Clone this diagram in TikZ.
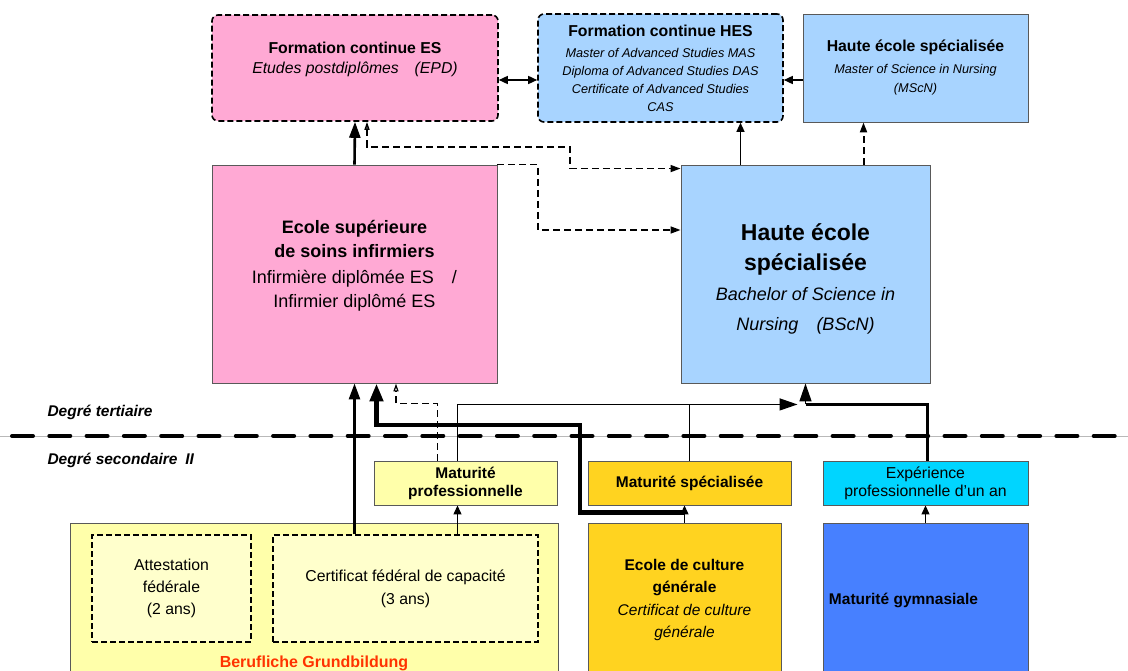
\documentclass[tikz,border=0pt]{standalone}
\usepackage{fontspec}
\setmainfont{Liberation Sans}
\usetikzlibrary{arrows.meta,calc}
\definecolor{espink}{HTML}{FFA9D4}
\definecolor{hesblue}{HTML}{A8D4FF}
\definecolor{cfcyellow}{HTML}{FFFFAA}
\definecolor{cfclight}{HTML}{FFFFCC}
\definecolor{ecggold}{HTML}{FFD320}
\definecolor{expcyan}{HTML}{00D5FF}
\definecolor{mgblue}{HTML}{4780FF}
\definecolor{bgred}{HTML}{FF3300}
\newcommand{\boxsub}[1]{{\fontsize{12.7}{16}\selectfont\itshape #1}}
\newcommand{\bigtitle}[1]{{\fontsize{23}{28}\selectfont\bfseries #1}}

\begin{document}
\begin{tikzpicture}[x=1pt, y=-1pt,
  box/.style={draw=black!65, line width=0.9pt, fill=#1, align=center,
              inner sep=2pt, font=\fontsize{15.8}{19}\selectfont},
  box/.default=white,
  dbox/.style={box=#1, draw=black, line width=1.6pt,
               dash pattern=on 6pt off 3pt},
  level/.style={font=\fontsize{15.5}{19}\selectfont\bfseries\itshape, anchor=west},
  arr/.style={-{Triangle[length=9pt,width=8pt]}, line width=1.5pt, draw=black},
  bigarr/.style={-{Triangle[length=16pt,width=11pt]}, line width=2.6pt, draw=black},
  hugearr/.style={-{Triangle[length=18pt,width=13pt]}, line width=4.5pt, draw=black},
  dasharr/.style={-{Triangle[length=10pt,width=7pt]}, line width=1.5pt, draw=black,
                  dash pattern=on 7pt off 4pt},
  link/.style={line width=1.5pt, draw=black}]
\useasboundingbox (0,0) rectangle (1128,671);

% tertiary level
\node[dbox=espink, rounded corners=6pt, minimum width=286, minimum height=106] (fces) at (355,68)
  {\textbf{Formation continue ES}\\[1pt]\textit{Etudes postdiplômes\quad (EPD)}\\[1pt]\mbox{}};
\node[dbox=hesblue, rounded corners=6pt, minimum width=245, minimum height=108] (fches) at (660.5,68)
  {\textbf{Formation continue HES}\\[2pt]
   \boxsub{Master of Advanced Studies MAS}\\[-1pt]
   \boxsub{Diploma of Advanced Studies DAS}\\[-1pt]
   \boxsub{Certificate of Advanced Studies}\\[-1pt]
   \boxsub{CAS}};
\node[box=hesblue, minimum width=225, minimum height=108] (hestop) at (915.5,68)
  {\textbf{Haute école spécialisée}\\[3pt]
   \boxsub{Master of Science in Nursing}\\[0pt]\boxsub{(MScN)}};
\node[box=espink, minimum width=285, minimum height=218,
      font=\fontsize{18}{24}\selectfont] (esi) at (354.5,274)
  {\textbf{Ecole supérieure}\\ \textbf{de soins infirmiers}\\[2pt]
   Infirmière diplômée ES\quad /\\ Infirmier diplômé ES\\[-4pt]\mbox{}};
\node[box=hesblue, minimum width=249, minimum height=218,
      font=\fontsize{18}{30}\selectfont] (hesbig) at (805.5,274)
  {\mbox{}\\[-3pt]\bigtitle{Haute école}\\ \bigtitle{spécialisée}\\
   \textit{Bachelor of Science in}\\ \textit{Nursing\quad(BScN)}};

% level separator
\draw[gray!55, line width=0.8pt] (0,436) -- (1128,436);
\draw[line width=4pt, line cap=round, dash pattern=on 21pt off 16.3pt] (12,436) -- (1128,436);
\node[level] (tert) at (44,412) {Degré tertiaire};
\node[level] (sec) at (44,460) {Degré secondaire\enspace II};

% secondary level
\node[box=cfcyellow, minimum width=183, minimum height=44, font=\fontsize{15.5}{18}\selectfont\bfseries]
  (mpro) at (465.5,483) {Maturité\\professionnelle};
\node[box=ecggold, minimum width=203, minimum height=44, font=\fontsize{15.5}{18}\selectfont\bfseries]
  (msp) at (689.5,483) {Maturité spécialisée};
\node[box=expcyan, minimum width=205, minimum height=44, font=\fontsize{15.8}{18}\selectfont]
  (exp) at (925.5,483) {Expérience\\professionnelle d’un an};
\node[box=cfcyellow, minimum width=488, minimum height=154] (bg) at (314,600) {};
\node[dbox=cfclight, minimum width=159, minimum height=107, font=\fontsize{15.8}{22}\selectfont]
  (af) at (171.5,588.5) {Attestation\\fédérale\\(2 ans)};
\node[dbox=cfclight, minimum width=265, minimum height=107, font=\fontsize{15.8}{23}\selectfont]
  (cfc) at (405.5,588.5) {Certificat fédéral de capacité\\(3 ans)};
\node[font=\fontsize{16}{19}\selectfont\bfseries, text=bgred] (bglabel) at (314,663)
  {Berufliche Grundbildung};
\node[box=ecggold, minimum width=193, minimum height=154, font=\fontsize{15.5}{22.5}\selectfont]
  (ecg) at (684.5,600) {\textbf{Ecole de culture}\\ \textbf{générale}\\
   \textit{Certificat de culture}\\ \textit{générale}};
\node[box=mgblue, minimum width=205, minimum height=154, font=\fontsize{15.5}{19}\selectfont\bfseries]
  (mg) at (925.5,600) {Maturité gymnasiale\hspace*{44pt}};

% links between the top boxes
\draw[arr, {Triangle[length=9pt,width=8pt]}-{Triangle[length=9pt,width=8pt]}]
  ($(fces.east)+(0,12)$) -- ($(fches.west)+(0,12)$);
\draw[arr] ($(hestop.west)+(0,12)$) -- ($(fches.east)+(0,12)$);
\draw[bigarr] (esi.north) -- (fces.south);
\draw[dasharr, {Triangle[open,length=8pt,width=5pt]}-{Triangle[length=10pt,width=7pt]}]
  ($(fces.south)+(12,0)$) |- (570,147) |- ($(hesbig.north west)+(0,4)$);
\draw[dasharr] (esi.north east) -| (538,230) -- ($(hesbig.west)+(0,-44)$);
\draw[arr, line width=1.2pt] ($(hesbig.north)+(-65,0)$) -- ($(fches.south)+(80,0)$);
\draw[dasharr, line width=2pt] ($(hesbig.north)+(58,0)$) -- ($(hestop.south)+(-52,0)$);

% links from the secondary level
\draw[bigarr] (esi.south |- cfc.north) -- (esi.south);
\draw[arr, line width=1.2pt] ($(cfc.north)+(52,0)$) -- ($(mpro.south)+(-8,0)$);
\draw[arr, line width=1.2pt] (mg.north) -- (exp.south);
\draw[arr, line width=1.2pt] (ecg.north) -- (msp.south -| ecg.north);
\draw[hugearr] ($(ecg.north)+(0,-10)$) -| (580,425) -| ($(esi.south)+(22,0)$);
\draw[dasharr, line width=1.2pt, -{Triangle[open,length=8pt,width=5pt]}]
  ($(mpro.north)+(-28,0)$) |- ($(esi.south)+(41.5,20)$) -- ($(esi.south)+(41.5,0)$);
\draw[arr, -{Triangle[length=18pt,width=12pt]}] ($(mpro.north)+(-8,0)$) |- ($(hesbig.south)+(-8,21)$);
\draw[link] (msp.north) -- ($(msp.north)+(0,-57)$);
\draw[link, line width=3pt] ($(exp.north)+(1.5,0)$) |- ($(hesbig.south)+(0,21)$);
\draw[arr, -{Triangle[length=18pt,width=12pt]}] ($(hesbig.south)+(0,21)$) -- (hesbig.south);
\end{tikzpicture}
\end{document}
